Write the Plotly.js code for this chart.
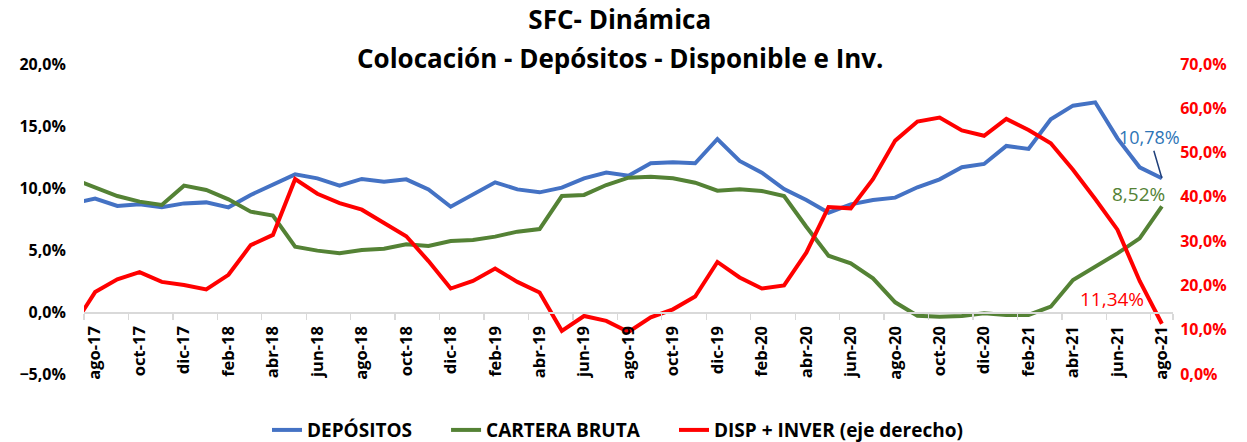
<!DOCTYPE html>
<html>
<head>
<meta charset="utf-8">
<script src="https://cdn.plot.ly/plotly-3.0.1.min.js"></script>
<style>html,body{margin:0;padding:0;background:#fff;}#chart{width:1247px;height:442px;}</style>
</head>
<body>
<div id="chart"></div>
<script>
// Months (jul-17 only enters from the clipped left edge)
const months = ['jul-17','ago-17','sep-17','oct-17','nov-17','dic-17','ene-18','feb-18','mar-18','abr-18','may-18','jun-18','jul-18',
  'ago-18','sep-18','oct-18','nov-18','dic-18','ene-19','feb-19','mar-19','abr-19','may-19','jun-19','jul-19',
  'ago-19','sep-19','oct-19','nov-19','dic-19','ene-20','feb-20','mar-20','abr-20','may-20','jun-20','jul-20',
  'ago-20','sep-20','oct-20','nov-20','dic-20','ene-21','feb-21','mar-21','abr-21','may-21','jun-21','jul-21','ago-21'];

const depositos = [8.77, 9.14, 8.55, 8.68, 8.44, 8.76, 8.84, 8.44, 9.44, 10.24,
  11.10, 10.78, 10.19, 10.73, 10.51, 10.70, 9.89, 8.49, 9.49, 10.46,
  9.89, 9.65, 10.03, 10.78, 11.24, 10.99, 11.99, 12.07, 11.99, 13.95,
  12.18, 11.24, 9.92, 9.03, 8.01, 8.68, 9.03, 9.22, 10.06, 10.70,
  11.67, 11.94, 13.39, 13.15, 15.54, 16.64, 16.91, 14.00, 11.67, 10.78];

const carteraBruta = [10.73, 10.03, 9.35, 8.90, 8.63, 10.19, 9.84, 9.09, 8.09, 7.77,
  5.27, 4.95, 4.73, 5.00, 5.11, 5.46, 5.32, 5.73, 5.81, 6.08,
  6.48, 6.69, 9.35, 9.44, 10.24, 10.83, 10.91, 10.78, 10.43, 9.78,
  9.89, 9.76, 9.35, 6.88, 4.54, 3.92, 2.71, 0.78, -0.30, -0.38,
  -0.32, -0.11, -0.24, -0.24, 0.43, 2.58, 3.66, 4.73, 5.94, 8.52];

const dispInver = [10.7, 18.5, 21.4, 23.0, 20.8, 20.1, 19.1, 22.4, 29.1, 31.4,
  44.0, 40.7, 38.6, 37.1, 34.1, 31.1, 25.5, 19.3, 21.0, 23.8,
  20.8, 18.4, 9.75, 13.1, 12.0, 9.5, 12.8, 14.6, 17.5, 25.3,
  21.8, 19.3, 20.0, 27.4, 37.7, 37.4, 44.0, 52.7, 57.0, 57.9,
  55.0, 53.8, 57.6, 55.1, 52.1, 46.1, 39.5, 32.6, 21.0, 11.34];

const seriesNames = ['DEPÓSITOS', 'CARTERA BRUTA', 'DISP + INVER (eje derecho)'];
const titleLines = ['SFC- Dinámica', 'Colocación - Depósitos - Disponible e Inv.'];
const tickMonths = months.filter((m, i) => i >= 1 && (i - 1) % 2 === 0);

const FONT = 'Open Sans, Noto Sans, sans-serif';
const last = months.length - 1;

const traces = [
  {x: months, y: depositos, name: seriesNames[0], type: 'scatter', mode: 'lines',
   line: {color: '#4472C4', width: 4}, yaxis: 'y', legend: 'legend'},
  {x: months, y: carteraBruta, name: seriesNames[1], type: 'scatter', mode: 'lines',
   line: {color: '#548235', width: 4}, yaxis: 'y', legend: 'legend2'},
  {x: months, y: dispInver, name: seriesNames[2], type: 'scatter', mode: 'lines',
   line: {color: '#FF0000', width: 4}, yaxis: 'y2', legend: 'legend3'}
];

const fmt = v => v.toFixed(2).replace('.', ',') + '%';
const titleFont = {family: FONT, size: 26, weight: 'bold', color: '#000000'};
const legendStyle = x => ({
  orientation: 'h', xref: 'container', x: x, xanchor: 'left',
  yref: 'container', y: 0.027, yanchor: 'middle',
  font: {family: FONT, size: 19, weight: 'bold', color: '#000000'},
  bgcolor: 'rgba(0,0,0,0)', itemwidth: 30
});

const layout = {
  width: 1247, height: 442,
  margin: {l: 84, r: 74, t: 64, b: 68, autoexpand: false},
  paper_bgcolor: '#ffffff', plot_bgcolor: '#ffffff',
  separators: ',.',
  font: {family: FONT, color: '#000000'},
  showlegend: true,
  title: {
    text: titleLines[0],
    font: titleFont,
    xref: 'container', x: 0.497, xanchor: 'center',
    yref: 'container', y: 0.955, yanchor: 'middle'
  },
  xaxis: {
    type: 'category',
    range: [0.5, last + 0.5],
    tickvals: tickMonths, ticktext: tickMonths,
    tickson: 'boundaries',
    ticks: 'outside', ticklen: 6, tickcolor: '#D9D9D9', tickwidth: 1.3,
    tickangle: -90, ticklabelstandoff: 6,
    tickfont: {family: FONT, size: 16.5, weight: 'bold', color: '#000000'},
    showline: true, linecolor: '#D9D9D9', linewidth: 1.5,
    showgrid: false, zeroline: false,
    anchor: 'free', position: 0.2
  },
  yaxis: {
    range: [-5, 20], dtick: 5, tick0: 0,
    tickformat: '.1f', ticksuffix: '%',
    ticks: 'outside', ticklen: 14, tickcolor: 'rgba(0,0,0,0)',
    tickfont: {family: FONT, size: 16, weight: 'bold', color: '#000000'},
    showgrid: false, zeroline: false, showline: false
  },
  yaxis2: {
    range: [0, 70], dtick: 10, tick0: 0,
    tickformat: '.1f', ticksuffix: '%',
    overlaying: 'y', side: 'right',
    ticks: 'outside', ticklen: 3, tickcolor: 'rgba(0,0,0,0)',
    tickfont: {family: FONT, size: 16, weight: 'bold', color: '#FF0000'},
    showgrid: false, zeroline: false, showline: false
  },
  legend: legendStyle(0.2141),
  legend2: legendStyle(0.3577),
  legend3: legendStyle(0.5405),
  annotations: [
    {xref: 'paper', yref: 'paper', x: (620 - 84) / 1089, y: (374 - 58) / 310,
     xanchor: 'center', yanchor: 'middle', showarrow: false,
     text: titleLines[1], font: titleFont},
    {x: months[last], y: depositos[last], xref: 'x', yref: 'y', text: fmt(depositos[last]),
     showarrow: true, arrowhead: 0, arrowwidth: 1.5, arrowcolor: '#1F3F7A', ax: -12, ay: -41,
     font: {family: FONT, size: 18, color: '#2E75B6'}},
    {x: months[last], y: carteraBruta[last], xref: 'x', yref: 'y', text: fmt(carteraBruta[last]),
     showarrow: false, xshift: -23, yshift: 12,
     font: {family: FONT, size: 19, color: '#548235'}},
    {x: months[last], y: dispInver[last], xref: 'x', yref: 'y2', text: fmt(dispInver[last]),
     showarrow: false, xshift: -50, yshift: 25,
     font: {family: FONT, size: 19, color: '#FF0000'}}
  ]
};

Plotly.newPlot('chart', traces, layout, {staticPlot: true, displayModeBar: false});
</script>
</body>
</html>
